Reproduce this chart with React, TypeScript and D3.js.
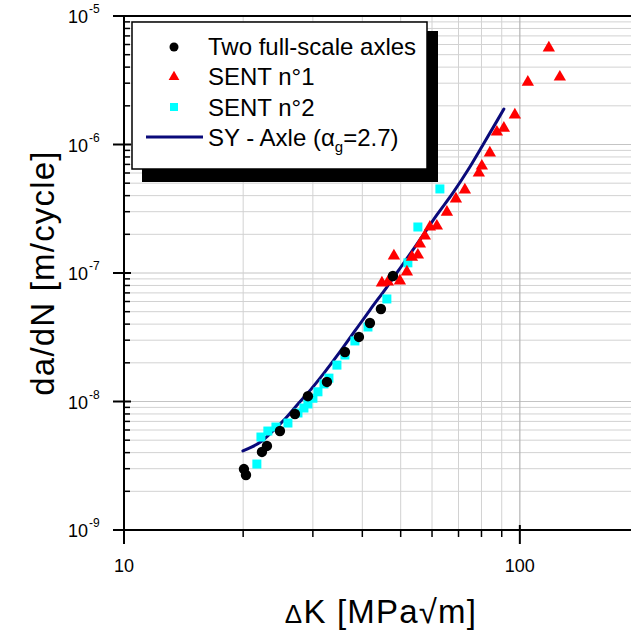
import * as d3 from "d3";

const W = 631;
const H = 632;
const PLOT = { left: 124, top: 16, right: 639, bottom: 530 };
const FONT = "Arial, 'Liberation Sans', sans-serif";

// Two full-scale axles
const axleK = [20.09, 20.33, 22.31, 22.97, 24.77, 27.03, 29.15, 32.56, 36.15, 39.22, 41.81, 44.57, 47.79];
const axleRate = [2.98e-9, 2.68e-9, 4.05e-9, 4.51e-9, 5.89e-9, 8.0e-9, 1.1e-8, 1.42e-8, 2.43e-8, 3.18e-8, 4.08e-8, 5.25e-8, 9.48e-8];

// SENT n°1
const sent1K = [44.83, 46.42, 48.07, 49.77, 51.84, 53.38, 55.26, 55.91, 57.55, 59.25, 61.71, 65.43, 68.94, 72.63, 78.78, 80.17, 83.99, 87.49, 91.13, 97.14, 104.76, 118.37, 126.19];
const sent1Rate = [8.36e-8, 8.51e-8, 1.36e-7, 8.67e-8, 1.02e-7, 1.33e-7, 1.38e-7, 1.68e-7, 1.94e-7, 2.28e-7, 2.32e-7, 2.98e-7, 3.77e-7, 4.43e-7, 6.0e-7, 6.8e-7, 8.59e-7, 1.25e-6, 1.34e-6, 1.7e-6, 3.06e-6, 5.64e-6, 3.35e-6];

// SENT n°2
const sent2K = [21.66, 22.18, 23.09, 24.2, 25.95, 27.51, 28.48, 29.15, 30.01, 30.9, 32.0, 32.94, 34.51, 36.15, 38.31, 41.33, 46.14, 52.14, 55.26, 62.81];
const sent2Rate = [3.26e-9, 5.29e-9, 5.89e-9, 6.33e-9, 6.8e-9, 8.14e-9, 8.9e-9, 9.57e-9, 1.06e-8, 1.19e-8, 1.37e-8, 1.52e-8, 1.92e-8, 2.3e-8, 2.96e-8, 3.8e-8, 6.28e-8, 1.2e-7, 2.28e-7, 4.51e-7];

// SY - Axle model curve
const syK = [19.97, 21.05, 22.31, 23.64, 25.5, 27.51, 29.84, 32.18, 35.11, 38.31, 41.81, 46.14, 50.64, 55.91, 61.71, 67.75, 73.94, 80.65, 87.49, 91.13];
const syRate = [4.12e-9, 4.43e-9, 4.93e-9, 5.79e-9, 7.31e-9, 9.57e-9, 1.27e-8, 1.7e-8, 2.43e-8, 3.54e-8, 5.15e-8, 7.78e-8, 1.17e-7, 1.81e-7, 2.83e-7, 4.2e-7, 6.33e-7, 9.91e-7, 1.52e-6, 1.89e-6];

const xMajor = [10, 100];
const xMinor = [20, 30, 40, 50, 60, 70, 80, 90];
const yExponents = [-9, -8, -7, -6, -5];

const legendItems = ["Two full-scale axles", "SENT n°1", "SENT n°2"];

const NAVY = "#0a0a7a";
const RED = "#ff0000";
const CYAN = "#00ffff";
const GRID = "#d2d2d2";

export default function App() {
  const x = d3.scaleLog().domain([10, 200]).range([PLOT.left, PLOT.right]);
  const y = d3.scaleLog().domain([1e-9, 1e-5]).range([PLOT.bottom, PLOT.top]);

  const yMinor: number[] = [];
  for (let e = -9; e < -5; e += 1) {
    for (let m = 2; m <= 9; m += 1) yMinor.push(m * Math.pow(10, e));
  }

  const line = d3
    .line<number>()
    .x((_, i) => x(syK[i]))
    .y((_, i) => y(syRate[i]))
    .curve(d3.curveMonotoneX);

  const tri = d3.symbol(d3.symbolTriangle, 66)() as string;
  const triSmall = d3.symbol(d3.symbolTriangle, 50)() as string;

  return (
    <svg width={W} height={H} style={{ position: "absolute", left: 0, top: 0, background: "#fff" }} fontFamily={FONT}>
      <defs>
        <clipPath id="plotClip">
          <rect x={PLOT.left} y={PLOT.top - 8} width={W - PLOT.left} height={PLOT.bottom - PLOT.top + 8} />
        </clipPath>
      </defs>

      {/* grid */}
      <g>
        {yMinor.map((v) => (
          <line key={`hy${v}`} x1={PLOT.left} x2={W} y1={y(v)} y2={y(v)} stroke={GRID} strokeWidth={1} />
        ))}
        {yExponents.map((e) => (
          <line key={`hM${e}`} x1={PLOT.left} x2={W} y1={y(Math.pow(10, e))} y2={y(Math.pow(10, e))} stroke="#c4c4c4" strokeWidth={1} />
        ))}
        {xMinor.map((v) => (
          <line key={`vx${v}`} x1={x(v)} x2={x(v)} y1={PLOT.top} y2={PLOT.bottom} stroke={GRID} strokeWidth={1} />
        ))}
        <line x1={x(100)} x2={x(100)} y1={PLOT.top} y2={PLOT.bottom} stroke="#b4b4b4" strokeWidth={1.2} />
      </g>

      {/* frame top line */}
      <line x1={PLOT.left} x2={W} y1={PLOT.top} y2={PLOT.top} stroke="#000" strokeWidth={2} />

      {/* data */}
      <g clipPath="url(#plotClip)">
        <path d={line(syK) ?? ""} fill="none" stroke={NAVY} strokeWidth={3} strokeLinecap="round" />
        {sent2K.map((k, i) => (
          <rect key={`c${i}`} x={x(k) - 4.5} y={y(sent2Rate[i]) - 4.5} width={9} height={9} fill={CYAN} />
        ))}
        {sent1K.map((k, i) => (
          <path key={`r${i}`} d={tri} transform={`translate(${x(k)},${y(sent1Rate[i])})`} fill={RED} />
        ))}
        {axleK.map((k, i) => (
          <circle key={`b${i}`} cx={x(k)} cy={y(axleRate[i])} r={5.2} fill="#000" />
        ))}
      </g>

      {/* y axis */}
      <g>
        <line x1={PLOT.left} x2={PLOT.left} y1={PLOT.top} y2={PLOT.bottom} stroke="#000" strokeWidth={2} />
        {yMinor.map((v) => (
          <line key={`ty${v}`} x1={PLOT.left} x2={PLOT.left + 6} y1={y(v)} y2={y(v)} stroke="#000" strokeWidth={1.5} />
        ))}
        {yExponents.map((e) => {
          const py = y(Math.pow(10, e));
          return (
            <g key={`yl${e}`}>
              <line x1={PLOT.left - 11} x2={PLOT.left + 7} y1={py} y2={py} stroke="#000" strokeWidth={2} />
              <text x={88} y={py + 7} textAnchor="end" fontSize={18} fill="#000">
                10
              </text>
              <text x={89} y={py - 3} fontSize={12} fill="#000">
                {e}
              </text>
            </g>
          );
        })}
      </g>

      {/* x axis */}
      <g>
        <line x1={PLOT.left - 8} x2={W} y1={PLOT.bottom} y2={PLOT.bottom} stroke="#000" strokeWidth={2} />
        {xMinor.map((v) => (
          <line key={`tx${v}`} x1={x(v)} x2={x(v)} y1={PLOT.bottom} y2={PLOT.bottom + 7} stroke="#000" strokeWidth={1.5} />
        ))}
        {xMajor.map((v) => (
          <g key={`xl${v}`}>
            <line x1={x(v)} x2={x(v)} y1={PLOT.bottom - 5} y2={PLOT.bottom + 14} stroke="#000" strokeWidth={2} />
            <text x={x(v)} y={572} textAnchor="middle" fontSize={18} fill="#000">
              {v}
            </text>
          </g>
        ))}
      </g>

      {/* axis titles */}
      <text x={381} y={623} textAnchor="middle" fontSize={33} letterSpacing={1.2} fill="#000">
        <tspan fontSize={26}>Δ</tspan>K [MPa√m]
      </text>
      <text transform="translate(54,273) rotate(-90)" textAnchor="middle" fontSize={33} letterSpacing={1.2} fill="#000">
        da/dN [m/cycle]
      </text>

      {/* legend */}
      <g>
        <rect x={142} y={31} width={296} height={151} fill="#000" />
        <rect x={132} y={22} width={295} height={147} fill="#fff" stroke="#000" strokeWidth={1.5} />
        <circle cx={174} cy={47} r={4.5} fill="#000" />
        <path d={triSmall} transform="translate(174,77)" fill={RED} />
        <rect x={170} y={103} width={8} height={8} fill={CYAN} />
        <line x1={146} x2={203} y1={137} y2={137} stroke={NAVY} strokeWidth={3} />
        {legendItems.map((t, i) => (
          <text key={t} x={208} y={55 + i * 30.3} fontSize={24} fill="#000">
            {t}
          </text>
        ))}
        <text x={208} y={146} fontSize={24} fill="#000">
          SY - Axle (α
          <tspan fontSize={15} dy={6}>g</tspan>
          <tspan dy={-6}>=2.7)</tspan>
        </text>
      </g>
    </svg>
  );
}
